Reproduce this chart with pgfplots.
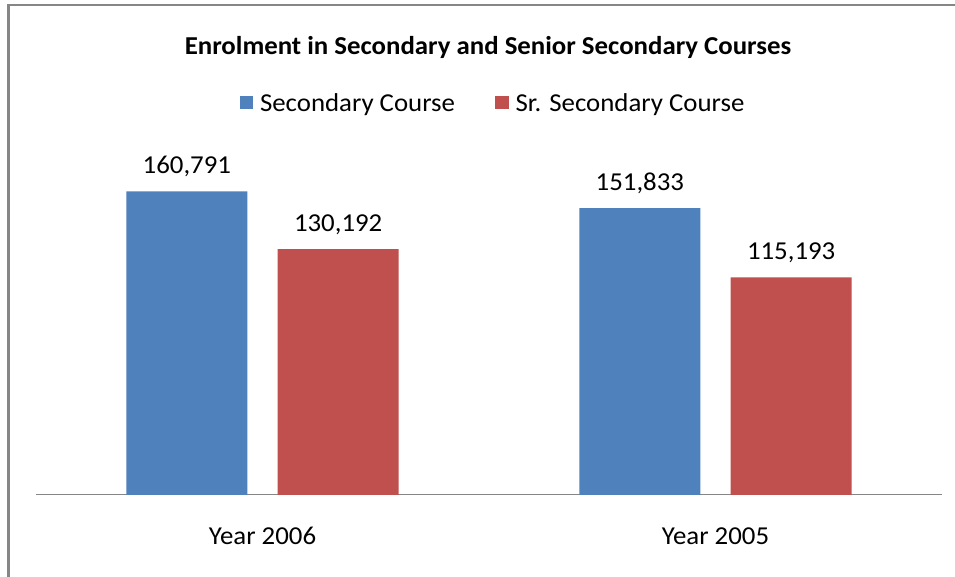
\documentclass[border=0pt]{standalone}
\usepackage{pgfplots}
\pgfplotsset{compat=1.18}
\usepackage{fontspec}
\setmainfont[FakeStretch=1.04]{Carlito}
\definecolor{secblue}{HTML}{4F81BD}
\definecolor{srred}{HTML}{C0504D}
\definecolor{framegray}{HTML}{868686}
\begin{document}
\begin{tikzpicture}[font=\fontsize{25.8}{30}\selectfont]
\useasboundingbox (0,0) rectangle (955pt,577pt);
\fill[white] (0,0) rectangle (955pt,577pt);
\draw[framegray, line width=2.5pt] (8.5pt,-5pt) |- (965pt,571.8pt);
\node[anchor=base, font=\fontsize{25.8}{30}\selectfont\bfseries] at (488pt,522pt) {Enrolment in Secondary and Senior Secondary Courses};
\begin{axis}[
  scale only axis,
  width=906pt, height=340pt,
  at={(36pt,82pt)}, anchor=south west,
  xmin=-0.5, xmax=1.5,
  ymin=0, ymax=180000,
  ybar,
  bar width=0.267,
  axis y line=none,
  axis x line*=bottom,
  axis line style={-, framegray, line width=1pt},
  xtick={0,1},
  xticklabels={Year 2006, Year 2005},
  major tick length=0pt,
  xticklabel style={anchor=base, yshift=-49.5pt, font=\fontsize{25.8}{30}\selectfont},
  clip=false,
  nodes near coords={\pgfmathprintnumber[fixed,precision=0,1000 sep={,},assume math mode=true]{\pgfplotspointmeta}},
  every node near coord/.append style={anchor=base, yshift=18pt, font=\fontsize{25.8}{30}\selectfont, text=black},
  legend columns=2,
  legend style={draw=none, fill=none, at={(0.5044,1.153)}, anchor=center,
    font=\fontsize{25.8}{30}\selectfont,
    /tikz/every odd column/.append style={column sep=5pt},
    /tikz/every even column/.append style={column sep=38pt}},
  legend image code/.code={\fill (0pt,-6.5pt) rectangle (13.5pt,6.5pt);},
]
\addplot[fill=secblue, draw=none, bar shift=-0.167] coordinates {(0,160791) (1,151833)};
\addlegendentry{Secondary Course}
\addplot[fill=srred, draw=none, bar shift=0.167] coordinates {(0,130192) (1,115193)};
\addlegendentry{Sr. Secondary Course}
\end{axis}
\end{tikzpicture}
\end{document}
